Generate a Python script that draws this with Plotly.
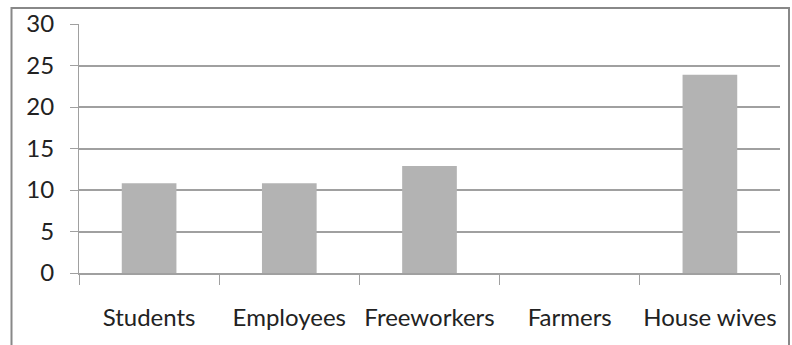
import plotly.graph_objects as go

categories = ["Students", "Employees", "Freeworkers", "Farmers", "House wives"]
values = [10.8, 10.8, 12.9, 0, 23.9]
y_ticks = [0, 5, 10, 15, 20, 25, 30]

W, H = 792, 345
L, R, T, B = 79, 12, 24, 72
pw, ph = W - L - R, H - T - B

fig = go.Figure(go.Bar(x=categories, y=values, marker=dict(color="#b3b3b3", line=dict(width=0)),
                       width=0.39))

grid = "#a0a0a0"
fnt = dict(family="Lato, 'Open Sans', sans-serif", size=24, color="#222222")
fig.update_layout(
    width=W, height=H, margin=dict(l=L, r=R, t=T, b=B, autoexpand=False),
    paper_bgcolor="white", plot_bgcolor="white", showlegend=False,
    font=fnt,
    xaxis=dict(showline=True, linecolor=grid, linewidth=2, ticks="outside", ticklen=10, tickwidth=1,
               tickcolor=grid, tickson="boundaries", showgrid=False, tickfont=fnt, ticklabelstandoff=22,
               tickangle=0, automargin=False),
    yaxis=dict(range=[0, 30], tickvals=y_ticks, showline=True, linecolor=grid, linewidth=1,
               ticks="outside", ticklen=8, tickcolor=grid, showgrid=True, gridcolor=grid, gridwidth=1.5,
               zeroline=False, tickfont=fnt, ticklabelstandoff=11, automargin=False),
    shapes=[dict(type="rect", xref="paper", yref="paper",
                 x0=(11.5 - L) / pw, x1=(789 - L) / pw,
                 y0=-(H + 20 - (T + ph)) / ph, y1=(T + ph - 8) / ph,
                 line=dict(color="#888888", width=2), fillcolor="rgba(0,0,0,0)", layer="below")],
)
fig.write_html("out.html")
